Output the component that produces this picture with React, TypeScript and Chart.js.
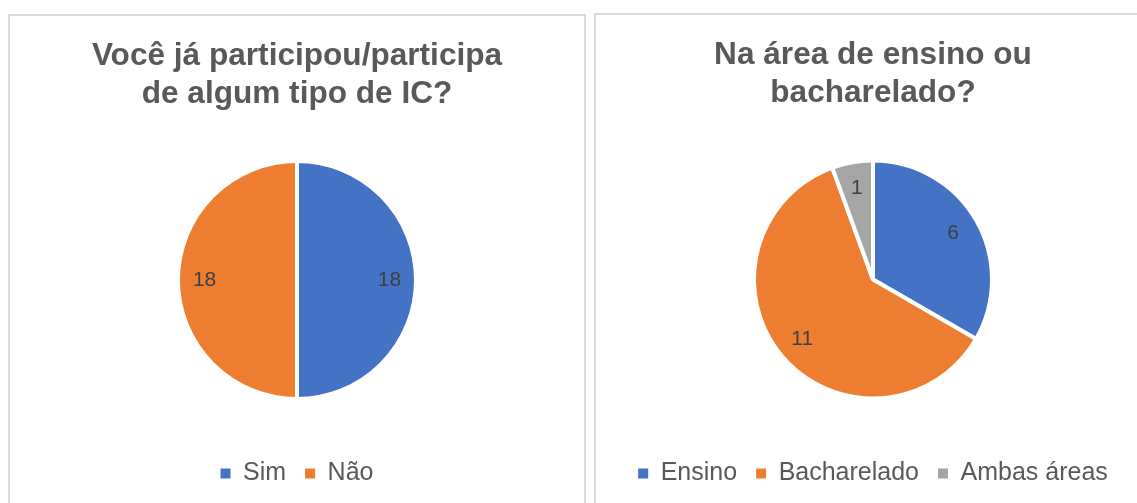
import React, { useEffect, useRef } from 'react';
import { Chart, registerables } from 'chart.js';

Chart.register(...registerables);

const leftTitle = ['Você já participou/participa', 'de algum tipo de IC?'];
const leftLabels = ['Sim', 'Não'];
const leftValues = [18, 18];

const rightTitle = ['Na área de ensino ou', 'bacharelado?'];
const rightLabels = ['Ensino', 'Bacharelado', 'Ambas áreas'];
const rightValues = [6, 11, 1];

const sliceColors = ['#4472C4', '#ED7D31', '#A5A5A5'];

const FONT = '"Liberation Sans", Arial, Helvetica, sans-serif';

const sliceLabelPlugin = {
  id: 'sliceLabels',
  afterDatasetsDraw(chart: any) {
    const ctx = chart.ctx;
    const meta = chart.getDatasetMeta(0);
    const values = chart.data.datasets[0].data;
    ctx.save();
    ctx.font = `21px ${FONT}`;
    ctx.fillStyle = '#404040';
    ctx.textAlign = 'center';
    ctx.textBaseline = 'middle';
    meta.data.forEach((arc: any, i: number) => {
      const p = arc.getProps(['x', 'y', 'startAngle', 'endAngle', 'outerRadius'], true);
      const mid = (p.startAngle + p.endAngle) / 2;
      const r = (p.outerRadius - 2) * 0.79;
      ctx.fillText(String(values[i]), p.x + Math.cos(mid) * r, p.y + Math.sin(mid) * r);
    });
    ctx.restore();
  },
};

function PiePanel(props: {
  title: string[];
  labels: string[];
  values: number[];
  left: number;
  top: number;
  width: number;
}) {
  const ref = useRef<HTMLCanvasElement>(null);
  const canvasW = props.width - 4;
  const canvasH = 503 - props.top - 2;

  useEffect(() => {
    if (!ref.current) return;
    const colors = sliceColors.slice(0, props.values.length);
    const chart = new Chart(ref.current, {
      type: 'pie',
      data: {
        labels: props.labels,
        datasets: [
          {
            data: props.values,
            backgroundColor: colors,
            borderColor: '#ffffff',
            borderWidth: 4,
          },
        ],
      },
      options: {
        responsive: false,
        animation: false,
        radius: 119,
        layout: { padding: { top: 0, bottom: 7, left: 0, right: 0 } },
        plugins: {
          tooltip: { enabled: false },
          title: {
            display: true,
            text: props.title,
            color: '#595959',
            font: { family: FONT, size: 31.6, weight: 'bold', lineHeight: 38 / 31.6 },
            padding: { top: 21, bottom: 5 },
          },
          legend: {
            display: true,
            position: 'bottom',
            labels: {
              boxWidth: 10,
              boxHeight: 10,
              padding: 19,
              color: '#595959',
              font: { family: FONT, size: 25 },
              generateLabels: (chart: any) =>
                chart.data.labels.map((l: string, i: number) => ({
                  text: l,
                  fillStyle: colors[i],
                  strokeStyle: colors[i],
                  lineWidth: 0,
                  hidden: false,
                  index: i,
                  fontColor: '#595959',
                })),
            },
          },
        },
      } as any,
      plugins: [sliceLabelPlugin],
    });
    return () => chart.destroy();
  }, []);

  return (
    <div
      style={{
        position: 'absolute',
        left: props.left,
        top: props.top,
        width: props.width,
        height: 560,
        border: '2px solid #d9d9d9',
        boxSizing: 'border-box',
        background: '#ffffff',
      }}
    >
      <canvas ref={ref} width={canvasW} height={canvasH} style={{ display: 'block' }} />
    </div>
  );
}

export default function App() {
  return (
    <div
      style={{
        position: 'fixed',
        left: 0,
        top: 0,
        width: 1137,
        height: 503,
        overflow: 'hidden',
        background: '#ffffff',
      }}
    >
      <PiePanel title={leftTitle} labels={leftLabels} values={leftValues} left={8} top={14} width={578} />
      <PiePanel title={rightTitle} labels={rightLabels} values={rightValues} left={594} top={13} width={558} />
    </div>
  );
}
